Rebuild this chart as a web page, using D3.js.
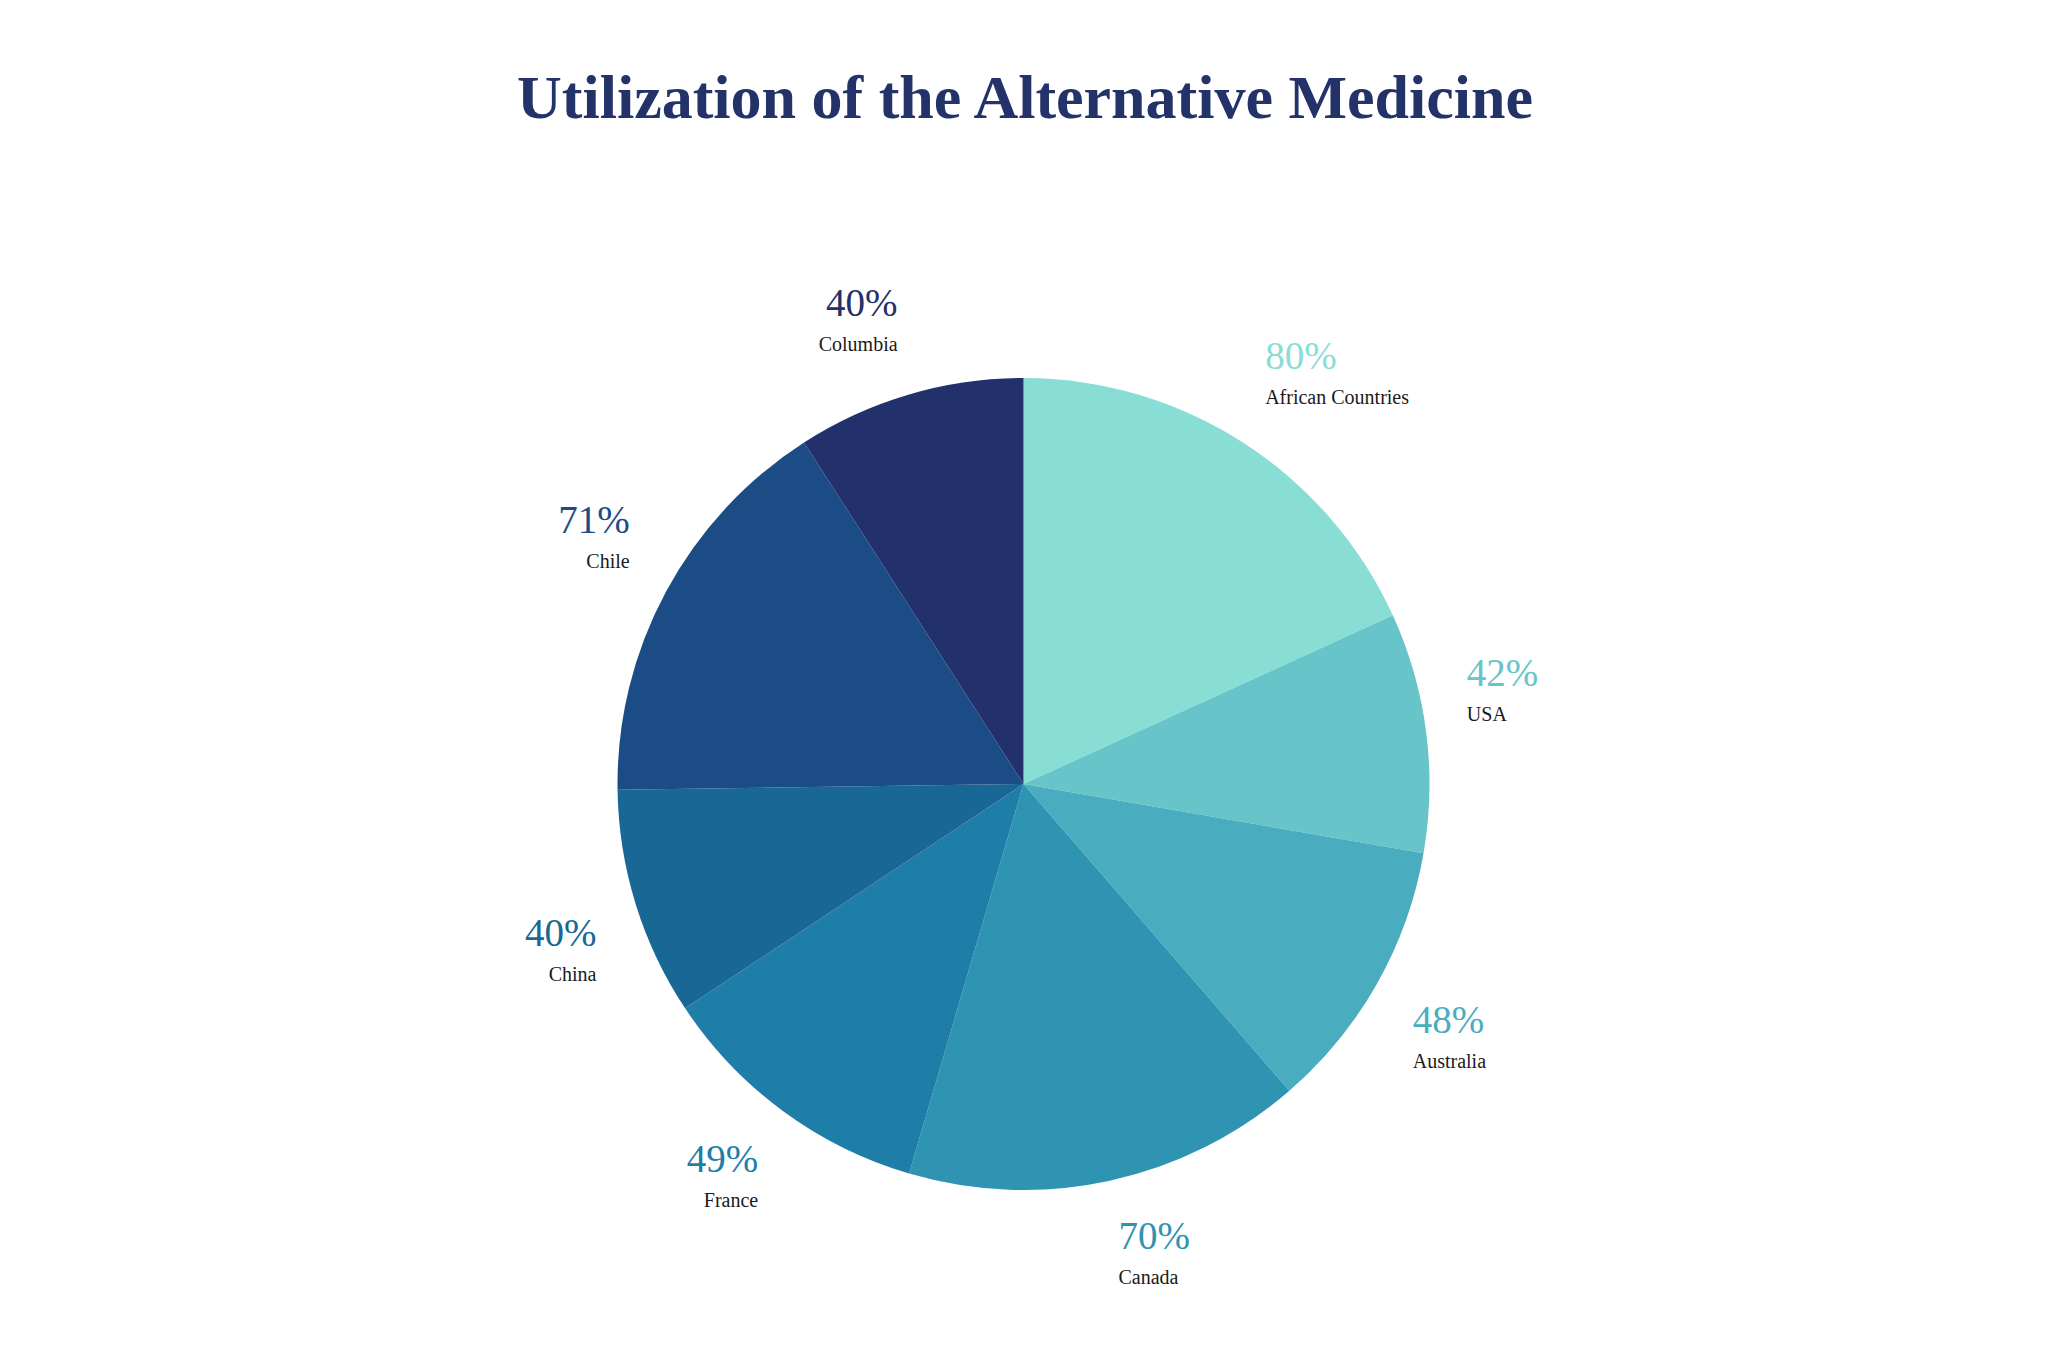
<!DOCTYPE html>
<html>
<head>
<meta charset="utf-8">
<script src="https://cdn.jsdelivr.net/npm/d3@7"></script>
<style>
html,body{margin:0;padding:0;background:#fff;}
svg{display:block;}
</style>
</head>
<body>
<svg id="chart" width="2048" height="1364"></svg>
<script>
const categories = ["African Countries","USA","Australia","Canada","France","China","Chile","Columbia"];
const values = [80, 42, 48, 70, 49, 40, 71, 40];
const valueLabels = ["80%","42%","48%","70%","49%","40%","71%","40%"];
const colors = ["#88ded5","#67c5ca","#4aadbf","#2f94b2","#1f7ea8","#186795","#1c4c86","#22316c"];
const title = "Utilization of the Alternative Medicine";

const W = 2048, H = 1364;
const cx = 1023.5, cy = 784, R = 406;
const svg = d3.select("#chart");

svg.append("text")
  .attr("x", 1025).attr("y", 118)
  .attr("text-anchor", "middle")
  .attr("font-family", "'Liberation Serif', 'Times New Roman', serif")
  .attr("font-weight", "bold")
  .attr("font-size", 62)
  .attr("fill", "#233268")
  .text(title);

const data = categories.map((c, i) => ({name: c, value: values[i], label: valueLabels[i], color: colors[i]}));
const pie = d3.pie().value(d => d.value).sort(null);
const arcs = pie(data);
const arc = d3.arc().innerRadius(0).outerRadius(R);

const g = svg.append("g").attr("transform", `translate(${cx},${cy})`);
g.selectAll("path.slice").data(arcs).enter().append("path")
  .attr("class", "slice")
  .attr("d", arc)
  .attr("fill", d => d.data.color);

const rx = 447, ry = 453;
g.selectAll("g.lab").data(arcs).enter().append("g").attr("class", "lab")
  .each(function(d) {
    const a = (d.startAngle + d.endAngle) / 2;
    const s = Math.sin(a), c = Math.cos(a);
    const x = rx * s, y = -ry * c;
    const anchor = s >= 0 ? "start" : "end";
    let pctY, nameY;
    if (c > 0) { nameY = y - 6 + 8 * c; pctY = nameY - 35; }
    else { pctY = y + 28 + 8.8 * (c + 0.3); nameY = pctY + 35; }
    const sel = d3.select(this);
    sel.append("text")
      .attr("x", x).attr("y", pctY)
      .attr("text-anchor", anchor)
      .attr("font-family", "'Liberation Serif', 'Times New Roman', serif")
      .attr("font-size", 39)
      .attr("fill", d.data.color)
      .text(d.data.label);
    sel.append("text")
      .attr("x", x).attr("y", nameY)
      .attr("text-anchor", anchor)
      .attr("font-family", "'Liberation Serif', 'Times New Roman', serif")
      .attr("font-size", 20)
      .attr("fill", "#1a1a1a")
      .text(d.data.name);
  });
</script>
</body>
</html>
